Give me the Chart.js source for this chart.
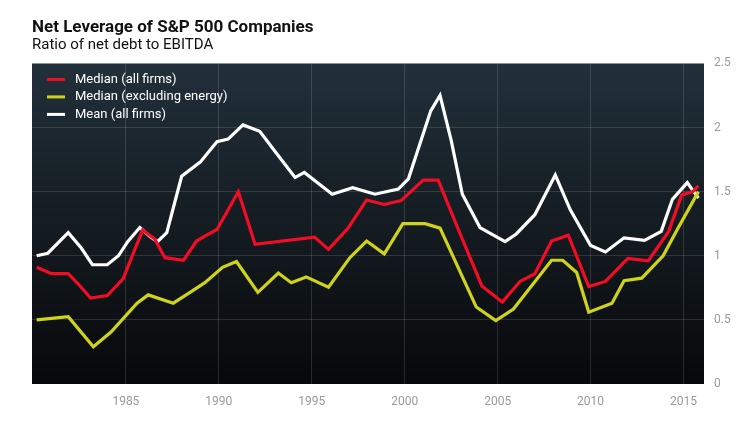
<!DOCTYPE html>
<html>
<head>
<meta charset="utf-8">
<script src="https://cdn.jsdelivr.net/npm/chart.js@4"></script>
<style>
  html, body { margin: 0; padding: 0; background: #fff; }
  canvas { display: block; }
</style>
</head>
<body>
<canvas id="leverageChart" width="750" height="422"></canvas>
<script>
// Net leverage (net debt / EBITDA)
const xTickYears = [1985, 1990, 1995, 2000, 2005, 2010, 2015];
const yTickValues = [0, 0.5, 1, 1.5, 2, 2.5];

const medianAllYears = [1980.2, 1981.0, 1981.9, 1982.5, 1983.1, 1984.0, 1984.85, 1985.9, 1986.55, 1987.1,
  1988.1, 1988.8, 1989.2, 1989.9, 1991.05, 1991.95, 1995.15, 1995.9, 1996.95, 1997.95, 1998.9, 1999.8,
  2001.0, 2001.8, 2003.0, 2004.15, 2005.25, 2006.2, 2007.0, 2007.9, 2008.8, 2009.9, 2010.8, 2012.0,
  2013.1, 2014.2, 2014.9, 2015.5, 2015.8];
const medianAllValues = [0.91, 0.86, 0.86, 0.77, 0.67, 0.69, 0.82, 1.20, 1.13, 0.985,
  0.965, 1.115, 1.15, 1.205, 1.50, 1.09, 1.145, 1.05, 1.215, 1.435, 1.40, 1.43,
  1.59, 1.59, 1.165, 0.765, 0.64, 0.80, 0.86, 1.115, 1.16, 0.76, 0.80, 0.98,
  0.96, 1.19, 1.475, 1.50, 1.545];

const medianExEnergyYears = [1980.2, 1981.9, 1983.25, 1984.2, 1985.6, 1986.2, 1987.55, 1988.45, 1989.25, 1990.2,
  1990.95, 1992.1, 1993.2, 1993.9, 1994.7, 1995.9, 1997.05, 1997.95, 1998.9, 1999.9, 2001.1, 2001.9,
  2003.85, 2004.9, 2005.85, 2007.9, 2008.5, 2009.25, 2009.9, 2011.15, 2011.8, 2012.75, 2013.9, 2014.7, 2015.8];
const medianExEnergyValues = [0.50, 0.525, 0.29, 0.405, 0.63, 0.695, 0.63, 0.715, 0.79, 0.91,
  0.955, 0.715, 0.865, 0.79, 0.835, 0.755, 0.985, 1.115, 1.015, 1.25, 1.25, 1.215,
  0.60, 0.495, 0.585, 0.965, 0.965, 0.87, 0.56, 0.63, 0.805, 0.825, 1.00, 1.215, 1.50];

const meanAllYears = [1980.2, 1980.8, 1981.9, 1982.6, 1983.2, 1984.0, 1984.6, 1985.1, 1985.75, 1986.3,
  1986.7, 1987.2, 1988.0, 1989.0, 1989.9, 1990.5, 1991.3, 1992.2, 1993.1, 1994.1, 1994.6, 1996.1,
  1997.2, 1998.4, 1999.65, 2000.2, 2001.4, 2001.9, 2002.5, 2003.1, 2004.05, 2005.4, 2006.0, 2007.0,
  2008.1, 2008.9, 2010.0, 2010.8, 2011.8, 2012.9, 2013.8, 2014.4, 2015.2, 2015.5, 2015.8];
const meanAllValues = [1.00, 1.02, 1.18, 1.06, 0.93, 0.93, 1.00, 1.11, 1.22, 1.15,
  1.11, 1.18, 1.62, 1.73, 1.89, 1.91, 2.02, 1.97, 1.80, 1.61, 1.65, 1.48,
  1.53, 1.48, 1.52, 1.60, 2.13, 2.25, 1.90, 1.48, 1.22, 1.11, 1.17, 1.32,
  1.63, 1.36, 1.08, 1.03, 1.14, 1.12, 1.19, 1.44, 1.57, 1.51, 1.45];

function toPoints(years, values) {
  return years.map((year, i) => ({ x: year, y: values[i] }));
}

// dark gradient behind the plot area
const plotBackground = {
  id: "plotBackground",
  beforeDraw(chart) {
    const { ctx, chartArea } = chart;
    const grad = ctx.createLinearGradient(0, chartArea.top, 0, chartArea.bottom);
    grad.addColorStop(0, "#22303a");
    grad.addColorStop(1, "#07080a");
    ctx.save();
    ctx.fillStyle = grad;
    ctx.fillRect(chartArea.left, chartArea.top, chartArea.right - chartArea.left, chartArea.bottom - chartArea.top);
    ctx.restore();
  },
};

// legend drawn inside the plot, top left
const insideLegend = {
  id: "insideLegend",
  afterDraw(chart) {
    const { ctx, chartArea } = chart;
    ctx.save();
    ctx.font = "13px Roboto";
    ctx.textBaseline = "middle";
    chart.data.datasets.forEach((ds, i) => {
      const y = chartArea.top + 16 + i * 17.5;
      ctx.strokeStyle = ds.borderColor;
      ctx.lineWidth = 3;
      ctx.beginPath();
      ctx.moveTo(chartArea.left + 15, y);
      ctx.lineTo(chartArea.left + 33, y);
      ctx.stroke();
      ctx.fillStyle = "#ffffff";
      ctx.fillText(ds.label, chartArea.left + 43, y);
    });
    ctx.restore();
  },
};

const ctx = document.getElementById("leverageChart").getContext("2d");
const leverageChart = new Chart(ctx, {
  type: "line",
  data: {
    datasets: [
      {
        label: "Median (all firms)",
        data: toPoints(medianAllYears, medianAllValues),
        borderColor: "#f20d24",
        borderWidth: 3.2,
        pointRadius: 0,
      },
      {
        label: "Median (excluding energy)",
        data: toPoints(medianExEnergyYears, medianExEnergyValues),
        borderColor: "#cfd31a",
        borderWidth: 3.2,
        pointRadius: 0,
      },
      {
        label: "Mean (all firms)",
        data: toPoints(meanAllYears, meanAllValues),
        borderColor: "#ffffff",
        borderWidth: 3.2,
        pointRadius: 0,
      },
    ],
  },
  options: {
    responsive: false,
    animation: false,
    layout: { padding: { left: 32, right: 0, top: 0, bottom: 0 } },
    plugins: {
      legend: { display: false },
      tooltip: { enabled: false },
      title: {
        display: true,
        text: "Net Leverage of S&P 500 Companies",
        align: "start",
        color: "#111111",
        font: { family: "Roboto", size: 17, weight: "bold" },
        padding: { top: 18, bottom: -2 },
      },
      subtitle: {
        display: true,
        text: "Ratio of net debt to EBITDA",
        align: "start",
        color: "#111111",
        font: { family: "Roboto", size: 15 },
        padding: { top: 0, bottom: 9 },
      },
    },
    scales: {
      x: {
        type: "linear",
        min: 1979.95,
        max: 2016.1,
        afterBuildTicks: (scale) => {
          scale.ticks = xTickYears.map((v) => ({ value: v }));
        },
        afterFit: (scale) => { scale.height = 38; },
        grid: { color: "rgba(255,255,255,0.13)", drawTicks: false },
        border: { display: false },
        ticks: {
          color: "#9a9a9a",
          font: { family: "Roboto", size: 12 },
          padding: 11,
          callback: (v) => String(v),
        },
      },
      y: {
        position: "right",
        min: 0,
        max: 2.5,
        afterBuildTicks: (scale) => {
          scale.ticks = yTickValues.map((v) => ({ value: v }));
        },
        afterFit: (scale) => { scale.width = 46; },
        grid: { color: "rgba(255,255,255,0.13)", drawTicks: false },
        border: { display: false },
        ticks: {
          color: "#9a9a9a",
          font: { family: "Roboto", size: 12 },
          padding: 10,
          callback: (v) => String(v),
        },
      },
    },
  },
  plugins: [plotBackground, insideLegend],
});
</script>
</body>
</html>
